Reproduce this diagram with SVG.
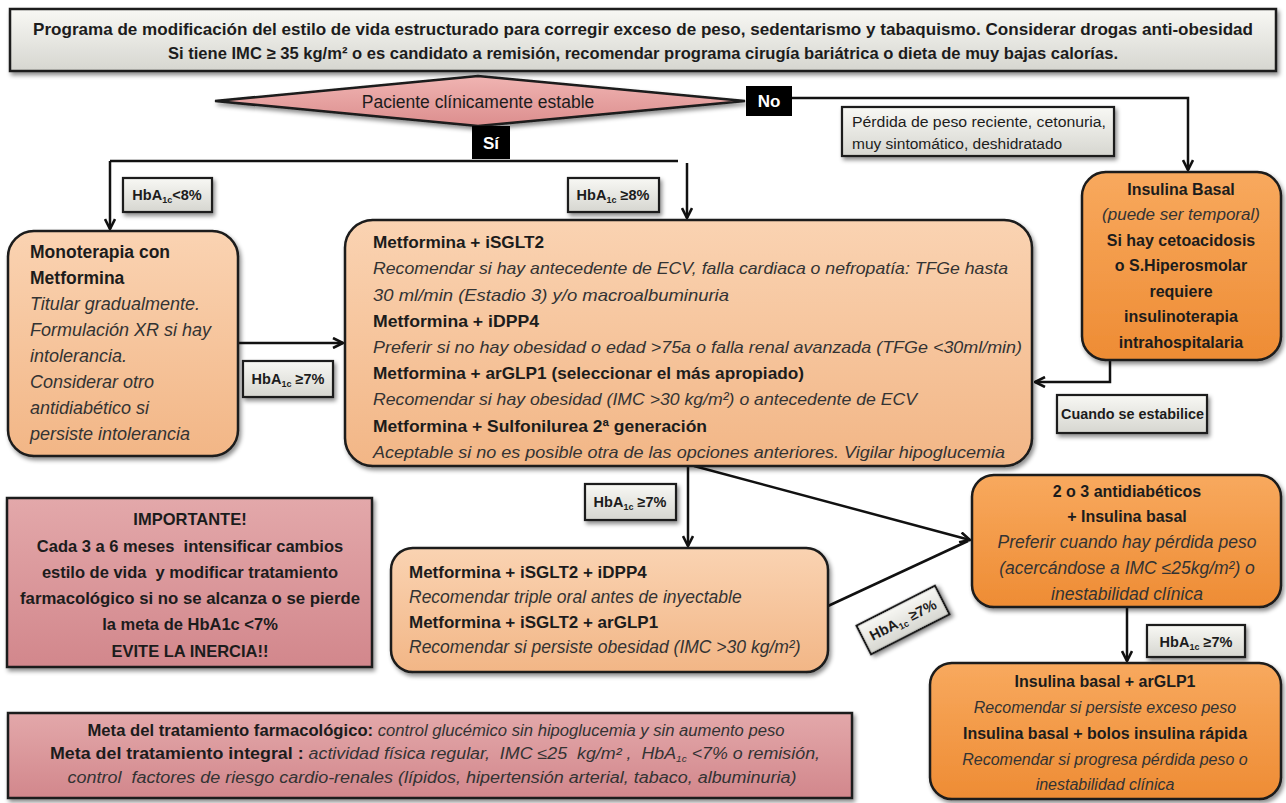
<svg xmlns="http://www.w3.org/2000/svg" width="1286" height="803" viewBox="0 0 1286 803">
<defs>
<linearGradient id="gGray" x1="0" y1="0" x2="0" y2="1"><stop offset="0" stop-color="#f8f8f4"/><stop offset="1" stop-color="#d6d6d0"/></linearGradient>
<linearGradient id="gPeach" x1="0" y1="0" x2="0" y2="1"><stop offset="0" stop-color="#fad3b2"/><stop offset="1" stop-color="#f2b686"/></linearGradient>
<linearGradient id="gOrange" x1="0" y1="0" x2="0" y2="1"><stop offset="0" stop-color="#f8a95e"/><stop offset="1" stop-color="#ee8c34"/></linearGradient>
<linearGradient id="gPink" x1="0" y1="0" x2="0" y2="1"><stop offset="0" stop-color="#e3a8aa"/><stop offset="1" stop-color="#d2878c"/></linearGradient>
<linearGradient id="gDiam" x1="0" y1="0" x2="0" y2="1"><stop offset="0" stop-color="#f0b4b2"/><stop offset="1" stop-color="#dc8e8e"/></linearGradient>
<filter id="sh" x="-10%" y="-10%" width="130%" height="140%"><feDropShadow dx="2" dy="3" stdDeviation="2" flood-color="#000" flood-opacity="0.45"/></filter>
<marker id="arr" viewBox="0 0 12 12" refX="11" refY="6" markerWidth="12" markerHeight="12" markerUnits="userSpaceOnUse" orient="auto">
<path d="M1,1 L11,6 L1,11" fill="none" stroke="#111" stroke-width="2.6"/>
</marker>
</defs>
<style>
text{font-family:"Liberation Sans",Arial,sans-serif;fill:#1c1c1c;white-space:pre}
.b{font-weight:bold}
.i{font-style:italic;fill:#333}
.box{stroke:#1a1a1a;stroke-width:2.5}
.lab{fill:url(#gGray);stroke:#1a1a1a;stroke-width:2.2}
.con{fill:none;stroke:#111;stroke-width:2.5}
.t16{font-size:16px}
.t17{font-size:17px}
.t18{font-size:18px}
.hb{font-weight:bold;font-size:14.5px;text-anchor:middle}
.sub{font-size:9px}
.c{text-anchor:middle}
</style>
<rect width="1286" height="803" fill="#ffffff"/>

<g id="connectors">
<path class="con" d="M792,98 H1188 V170" marker-end="url(#arr)"/>
<path class="con" d="M110,161 H678"/>
<path class="con" d="M110,161 V229" marker-end="url(#arr)"/>
<path class="con" d="M687,163 V218" marker-end="url(#arr)"/>
<path class="con" d="M238,343 H343" marker-end="url(#arr)"/>
<path class="con" d="M1110,360 V382 H1035" marker-end="url(#arr)"/>
<path class="con" d="M688,466 V546" marker-end="url(#arr)"/>
<path class="con" d="M694,466 L970,540" marker-end="url(#arr)"/>
<path class="con" d="M828,606 L968,541"/>
<path class="con" d="M1127,607 V661" marker-end="url(#arr)"/>
</g>

<g id="banner">
<rect class="box" x="10" y="9" width="1266" height="62" fill="url(#gGray)" filter="url(#sh)"/>
<text class="b c" x="643" y="35" font-size="16.5" textLength="1220" lengthAdjust="spacingAndGlyphs">Programa de modificación del estilo de vida estructurado para corregir exceso de peso, sedentarismo y tabaquismo. Considerar drogas anti-obesidad</text>
<text class="b c" x="643" y="59" font-size="16.5" textLength="950" lengthAdjust="spacingAndGlyphs">Si tiene IMC ≥ 35 kg/m² o es candidato a remisión, recomendar programa cirugía bariátrica o dieta de muy bajas calorías.</text>
</g>

<g id="decision">
<polygon class="box" points="215,101 478,76 745,101 478,126" fill="url(#gDiam)" filter="url(#sh)"/>
<text class="c" x="478" y="108" font-size="17.5">Paciente clínicamente estable</text>
</g>

<g id="no">
<rect x="746" y="86" width="46" height="30" fill="#000"/>
<text class="b c" x="769" y="107" font-size="17" style="fill:#fff">No</text>
</g>

<g id="si">
<rect x="472" y="126" width="38" height="33" fill="#000"/>
<text class="b c" x="491" y="149" font-size="17" style="fill:#fff">Sí</text>
</g>

<g id="perdida">
<rect class="lab" x="842" y="107" width="272" height="49" filter="url(#sh)"/>
<text x="852" y="127" font-size="15.5" textLength="254" lengthAdjust="spacingAndGlyphs">Pérdida de peso reciente, cetonuria,</text>
<text x="852" y="149" font-size="15.5">muy sintomático, deshidratado</text>
</g>

<g id="lab-lt8">
<rect class="lab" x="123" y="178" width="89" height="34" filter="url(#sh)"/>
<text class="hb" x="167" y="200">HbA<tspan class="sub" dy="3">1c</tspan><tspan dy="-3">&lt;8%</tspan></text>
</g>

<g id="lab-ge8">
<rect class="lab" x="568" y="178" width="91" height="34" filter="url(#sh)"/>
<text class="hb" x="613" y="200">HbA<tspan class="sub" dy="3">1c</tspan><tspan dy="-3"> ≥8%</tspan></text>
</g>

<g id="monoterapia">
<rect class="box" x="8" y="231" width="230" height="225" rx="26" fill="url(#gPeach)" filter="url(#sh)"/>
<text class="b" x="30" y="258" font-size="17.5">Monoterapia con</text>
<text class="b" x="30" y="284" font-size="17.5">Metformina</text>
<text class="i t18" x="30" y="310">Titular gradualmente.</text>
<text class="i t18" x="30" y="336">Formulación XR si hay</text>
<text class="i t18" x="30" y="362">intolerancia.</text>
<text class="i t18" x="30" y="388">Considerar otro</text>
<text class="i t18" x="30" y="414">antidiabético si</text>
<text class="i t18" x="30" y="440">persiste intolerancia</text>
</g>

<g id="lab-ge7a">
<rect class="lab" x="243" y="361" width="90" height="36" filter="url(#sh)"/>
<text class="hb" x="288" y="384">HbA<tspan class="sub" dy="3">1c</tspan><tspan dy="-3"> ≥7%</tspan></text>
</g>

<g id="metformina-dual">
<rect class="box" x="345" y="220" width="687" height="246" rx="28" fill="url(#gPeach)" filter="url(#sh)"/>
<text class="b t17" x="373" y="248" textLength="171" lengthAdjust="spacingAndGlyphs">Metformina + iSGLT2</text>
<text class="i t17" x="373" y="274" textLength="635" lengthAdjust="spacingAndGlyphs">Recomendar si hay antecedente de ECV, falla cardiaca o nefropatía: TFGe hasta</text>
<text class="i t17" x="373" y="301" textLength="356" lengthAdjust="spacingAndGlyphs">30 ml/min (Estadio 3) y/o macroalbuminuria</text>
<text class="b t17" x="373" y="327" textLength="166" lengthAdjust="spacingAndGlyphs">Metformina + iDPP4</text>
<text class="i t17" x="373" y="353" textLength="649" lengthAdjust="spacingAndGlyphs">Preferir si no hay obesidad o edad &gt;75a o falla renal avanzada (TFGe &lt;30ml/min)</text>
<text class="b t17" x="373" y="379" textLength="431" lengthAdjust="spacingAndGlyphs">Metformina + arGLP1 (seleccionar el más apropiado)</text>
<text class="i t17" x="373" y="405" textLength="544" lengthAdjust="spacingAndGlyphs">Recomendar si hay obesidad (IMC &gt;30 kg/m²) o antecedente de ECV</text>
<text class="b t17" x="373" y="432" textLength="334" lengthAdjust="spacingAndGlyphs">Metformina + Sulfonilurea 2ª generación</text>
<text class="i t17" x="373" y="458" textLength="632" lengthAdjust="spacingAndGlyphs">Aceptable si no es posible otra de las opciones anteriores. Vigilar hipoglucemia</text>
</g>

<g id="insulina-basal">
<rect class="box" x="1082" y="172" width="199" height="188" rx="24" fill="url(#gOrange)" filter="url(#sh)"/>
<text class="b t16 c" x="1181" y="195">Insulina Basal</text>
<text class="i t17 c" x="1181" y="220">(puede ser temporal)</text>
<text class="b t16 c" x="1181" y="246">Si hay cetoacidosis</text>
<text class="b t16 c" x="1181" y="271">o S.Hiperosmolar</text>
<text class="b t16 c" x="1181" y="297">requiere</text>
<text class="b t16 c" x="1181" y="322">insulinoterapia</text>
<text class="b t16 c" x="1181" y="348">intrahospitalaria</text>
</g>

<g id="lab-estabilice">
<rect class="lab" x="1057" y="395" width="150" height="38" filter="url(#sh)"/>
<text class="b" x="1061" y="419" font-size="15" textLength="143" lengthAdjust="spacingAndGlyphs">Cuando se estabilice</text>
</g>

<g id="lab-ge7b">
<rect class="lab" x="585" y="484" width="91" height="36" filter="url(#sh)"/>
<text class="hb" x="630" y="507">HbA<tspan class="sub" dy="3">1c</tspan><tspan dy="-3"> ≥7%</tspan></text>
</g>

<g id="triple">
<rect class="box" x="391" y="548" width="437" height="124" rx="22" fill="url(#gPeach)" filter="url(#sh)"/>
<text class="b t17" x="409" y="578">Metformina + iSGLT2 + iDPP4</text>
<text class="i" x="409" y="603" font-size="17.5">Recomendar triple oral antes de inyectable</text>
<text class="b t17" x="409" y="628">Metformina + iSGLT2 + arGLP1</text>
<text class="i" x="409" y="653" font-size="17.5">Recomendar si persiste obesidad (IMC &gt;30 kg/m²)</text>
</g>

<g id="lab-ge7c" transform="translate(903,620) rotate(-27)">
<rect class="lab" x="-44" y="-16" width="88" height="32" filter="url(#sh)"/>
<text class="hb" x="0" y="5">HbA<tspan class="sub" dy="3">1c</tspan><tspan dy="-3"> ≥7%</tspan></text>
</g>

<g id="insulina-antidiab">
<rect class="box" x="972" y="475" width="309" height="132" rx="22" fill="url(#gOrange)" filter="url(#sh)"/>
<text class="b t16 c" x="1127" y="497">2 o 3 antidiabéticos</text>
<text class="b t16 c" x="1127" y="522">+ Insulina basal</text>
<text class="i c" x="1127" y="548" font-size="17.5">Preferir cuando hay pérdida peso</text>
<text class="i c" x="1127" y="574" font-size="17.5">(acercándose a IMC ≤25kg/m²) o</text>
<text class="i c" x="1127" y="600" font-size="17.5">inestabilidad clínica</text>
</g>

<g id="lab-ge7d">
<rect class="lab" x="1147" y="625" width="98" height="32" filter="url(#sh)"/>
<text class="hb" x="1196" y="647">HbA<tspan class="sub" dy="3">1c</tspan><tspan dy="-3"> ≥7%</tspan></text>
</g>

<g id="insulina-intensiva">
<rect class="box" x="930" y="663" width="351" height="136" rx="22" fill="url(#gOrange)" filter="url(#sh)"/>
<text class="b t16 c" x="1105" y="687">Insulina basal + arGLP1</text>
<text class="i t16 c" x="1105" y="713">Recomendar si persiste exceso peso</text>
<text class="b t16 c" x="1105" y="739">Insulina basal + bolos insulina rápida</text>
<text class="i t16 c" x="1105" y="765">Recomendar si progresa pérdida peso o</text>
<text class="i t16 c" x="1105" y="790">inestabilidad clínica</text>
</g>

<g id="importante">
<rect class="box" x="7" y="498" width="365" height="169" fill="url(#gPink)" filter="url(#sh)"/>
<text class="b c" x="190" y="525" font-size="16.5">IMPORTANTE!</text>
<text class="b c" x="190" y="552" font-size="16.5">Cada 3 a 6 meses  intensificar cambios</text>
<text class="b c" x="190" y="578" font-size="16.5">estilo de vida  y modificar tratamiento</text>
<text class="b c" x="190" y="604" font-size="16.5" textLength="340" lengthAdjust="spacingAndGlyphs">farmacológico si no se alcanza o se pierde</text>
<text class="b c" x="190" y="630" font-size="16.5">la meta de HbA1c &lt;7%</text>
<text class="b c" x="190" y="657" font-size="16.5">EVITE LA INERCIA!!</text>
</g>

<g id="metas">
<rect class="box" x="8" y="713" width="844" height="85" fill="url(#gPink)" filter="url(#sh)"/>
<text class="c" x="436" y="736" font-size="16" textLength="697" lengthAdjust="spacingAndGlyphs"><tspan class="b">Meta del tratamiento farmacológico:</tspan><tspan class="i"> control glucémico sin hipoglucemia y sin aumento peso</tspan></text>
<text class="c" x="435" y="759" font-size="16" textLength="770" lengthAdjust="spacingAndGlyphs"><tspan class="b">Meta del tratamiento integral :</tspan><tspan class="i"> actividad física regular,  IMC ≤25  kg/m² ,  HbA</tspan><tspan class="i" font-size="9" dy="3">1c</tspan><tspan class="i" dy="-3"> &lt;7% o remisión,</tspan></text>
<text class="c i" x="432" y="783" font-size="16" textLength="729" lengthAdjust="spacingAndGlyphs">control  factores de riesgo cardio-renales (lípidos, hipertensión arterial, tabaco, albuminuria)</text>
</g>
</svg>
